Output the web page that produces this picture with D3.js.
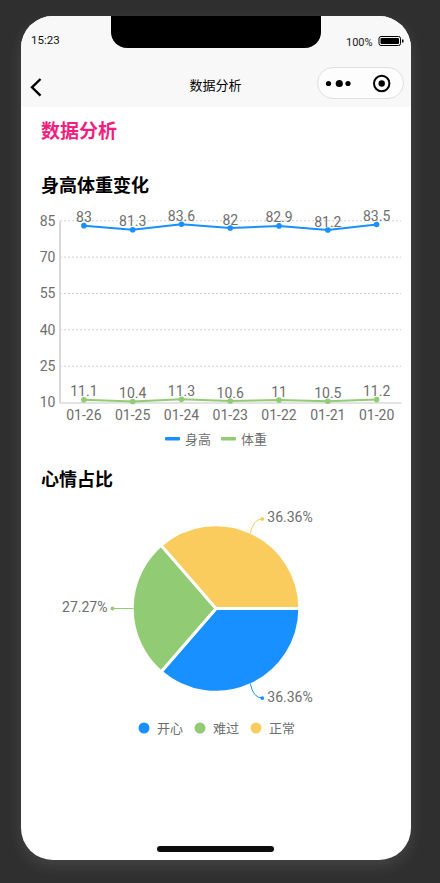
<!DOCTYPE html>
<html><head><meta charset="utf-8">
<script src="https://cdn.jsdelivr.net/npm/d3@7"></script>
<style>
html,body{margin:0;padding:0;background:#2f2f2f;width:440px;height:883px;overflow:hidden}
svg{display:block;position:absolute;left:0;top:0}
text{font-family:Roboto,"Noto Sans CJK SC",sans-serif}
#phone{position:absolute;left:21px;top:16px;width:390px;height:844px;border-radius:32px;background:#fff;box-shadow:0 6px 16px rgba(255,255,255,.11)}
</style></head><body>
<div id="phone"></div>
<svg id="c" width="440" height="883"></svg>
<script>
const dates=["01-26","01-25","01-24","01-23","01-22","01-21","01-20"];
const heightValues=[83,81.3,83.6,82,82.9,81.2,83.5];
const weightValues=[11.1,10.4,11.3,10.6,11,10.5,11.2];
const yTicks=[10,25,40,55,70,85];
const moods=["开心","难过","正常"];
const moodValues=[4,3,4];
const moodLabels=["36.36%","27.27%","36.36%"];
const moodColors=["#1890ff","#91cb74","#facb5d"];
const seriesNames=["身高","体重"];
const seriesColors=["#1890ff","#91cb74"];

const svg=d3.select("#c");
const txt="#6e6e6e";
const cjk='Roboto,"Noto Sans CJK SC",sans-serif';
// phone chrome
const clip=svg.append("defs").append("clipPath").attr("id","ph");
clip.append("rect").attr("x",21).attr("y",16).attr("width",390).attr("height",844).attr("rx",32);
const chrome=svg.append("g").attr("clip-path","url(#ph)");
chrome.append("rect").attr("x",21).attr("y",16).attr("width",390).attr("height",91).attr("fill","#f8f8f8");
chrome.append("path").attr("fill","#000").attr("d","M111 16H321V32A16 16 0 0 1 305 48H127A16 16 0 0 1 111 32Z");
svg.append("text").attr("x",31).attr("y",44).attr("font-size",11.5).attr("fill","#111").text("15:23");
svg.append("text").attr("x",346).attr("y",46).attr("font-size",11).attr("fill","#222").text("100%");
svg.append("rect").attr("x",379).attr("y",36.5).attr("width",21.5).attr("height",9).attr("rx",2).attr("fill","#f8f8f8").attr("stroke","#000").attr("stroke-width",1);
svg.append("rect").attr("x",380.5).attr("y",38).attr("width",18.5).attr("height",6).attr("rx",1).attr("fill","#000");
svg.append("rect").attr("x",402).attr("y",39.5).attr("width",1.5).attr("height",3).attr("fill","#000");
svg.append("path").attr("d","M40.5 79L32 87.3L40.5 95.7").attr("fill","none").attr("stroke","#000").attr("stroke-width",2.4);
svg.append("text").attr("x",215.5).attr("y",90).attr("text-anchor","middle").attr("font-size",13).attr("fill","#000").text("数据分析");
svg.append("rect").attr("x",317.5).attr("y",67.5).attr("width",86).attr("height",31).attr("rx",15.5).attr("fill","#fff").attr("fill-opacity",.7).attr("stroke","#e0e0e0");
[[328.5,2.6],[339.3,3.6],[348,2.6]].forEach(([x,r])=>svg.append("circle").attr("cx",x).attr("cy",83.5).attr("r",r).attr("fill","#000"));
svg.append("circle").attr("cx",381.7).attr("cy",83.5).attr("r",7.7).attr("fill","none").attr("stroke","#000").attr("stroke-width",2);
svg.append("circle").attr("cx",381.7).attr("cy",83.5).attr("r",3.2).attr("fill","#000");
svg.append("rect").attr("x",157).attr("y",846).attr("width",117).attr("height",6).attr("rx",3).attr("fill","#0c0c0c");

// headings
svg.append("text").attr("x",41).attr("y",137.5).attr("font-size",19).attr("font-weight",700).attr("fill","#f01f7e").text("数据分析");
svg.append("text").attr("x",41).attr("y",192).attr("font-size",18).attr("font-weight",700).attr("fill","#000").text("身高体重变化");
svg.append("text").attr("x",41).attr("y",485.5).attr("font-size",18).attr("font-weight",700).attr("fill","#000").text("心情占比");

// line chart
const x=d3.scaleBand().domain(dates).range([59.5,401]);
const y=d3.scaleLinear().domain([10,85]).range([402.5,220.8]);
const grid=svg.append("g");
grid.selectAll("line").data(yTicks.filter(d=>d>10)).join("line")
  .attr("x1",60).attr("x2",401).attr("y1",d=>y(d)).attr("y2",d=>y(d))
  .attr("stroke","#cfcfcf").attr("stroke-dasharray","2 2");
const ax=svg.append("g").attr("transform","translate(59.5,0)")
  .call(d3.axisLeft(y).tickValues(yTicks).tickSize(0).tickPadding(4));
ax.select(".domain").attr("stroke","#d9d9d9").attr("stroke-width",2);
ax.selectAll("text").attr("font-size",14).attr("fill",txt).attr("font-family",cjk);
const bx=svg.append("g").attr("transform","translate(0,402.5)")
  .call(d3.axisBottom(x).tickSize(0).tickPadding(7.5));
bx.select(".domain").attr("stroke","#e3e3e3").attr("stroke-width",2);
bx.selectAll("text").attr("font-size",14).attr("fill",txt).attr("font-family",cjk);

[heightValues,weightValues].forEach((vals,i)=>{
  const g=svg.append("g"), cx=(d,j)=>x(dates[j])+x.bandwidth()/2;
  g.append("path").attr("fill","none").attr("stroke",seriesColors[i]).attr("stroke-width",2)
    .attr("d",d3.line().x(cx).y(d=>y(d))(vals));
  g.selectAll("circle").data(vals).join("circle").attr("cx",cx).attr("cy",d=>y(d)).attr("r",2.8).attr("fill",seriesColors[i]);
  g.selectAll("text").data(vals).join("text").attr("x",cx).attr("y",d=>y(d)-3.5)
    .attr("text-anchor","middle").attr("font-size",14).attr("fill",txt).text(d=>d);
});
// line legend
const legX=[165,221];
seriesNames.forEach((n,i)=>{
  svg.append("rect").attr("x",legX[i]).attr("y",437).attr("width",15).attr("height",3.5).attr("rx",1).attr("fill",seriesColors[i]);
  svg.append("text").attr("x",legX[i]+20).attr("y",444).attr("font-size",13).attr("fill",txt).text(n);
});

// pie
const cx=216,cy=608.5,R=83.8;
const pie=d3.pie().sort(null).startAngle(Math.PI/2).endAngle(Math.PI*2.5);
const arc=d3.arc().innerRadius(0).outerRadius(R);
const arcs=pie(moodValues);
const gp=svg.append("g").attr("transform",`translate(${cx},${cy})`);
gp.selectAll("path.s").data(arcs).join("path").attr("class","s").attr("d",arc)
  .attr("fill",(d,i)=>moodColors[i]).attr("stroke","#fff").attr("stroke-width",3);
const outer=(d,r)=>{const a=(d.startAngle+d.endAngle)/2-Math.PI/2;return [r*Math.cos(a),r*Math.sin(a)];};
arcs.forEach((d,i)=>{
  const p0=outer(d,82.5), side=p0[0]>=0?1:-1;
  const flat=Math.abs(p0[1])<1;
  const p2=[p0[0]+side*(flat?21:12), p0[1]+(flat?0:Math.sign(p0[1])*14.5)];
  const c=flat?p0:[p0[0]+side*3,p2[1]];
  gp.append("path").attr("fill","none").attr("stroke",moodColors[i]).attr("stroke-width",1)
    .attr("d",`M${p0[0]} ${p0[1]}Q${c[0]} ${c[1]} ${p2[0]} ${p2[1]}`);
  gp.append("circle").attr("cx",p2[0]).attr("cy",p2[1]).attr("r",1.9).attr("fill",moodColors[i]);
  gp.append("text").attr("x",p2[0]+side*5).attr("y",p2[1]+3.5).attr("text-anchor",side>0?"start":"end")
    .attr("font-size",14).attr("fill",txt).text(moodLabels[i]);
});
// pie legend
const pieLegX=[144,200,256];
moods.forEach((m,i)=>{
  svg.append("circle").attr("cx",pieLegX[i]).attr("cy",728).attr("r",5.5).attr("fill",moodColors[i]);
  svg.append("text").attr("x",pieLegX[i]+13).attr("y",733).attr("font-size",13).attr("fill",txt).text(m);
});
</script></body></html>
